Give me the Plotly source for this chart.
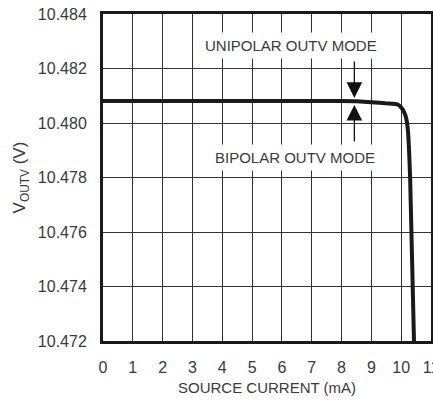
import plotly.graph_objects as go

# Output voltage vs. source current
source_current_ma = [0, 1, 2, 3, 4, 5, 6, 7, 8, 8.5, 9.0, 9.5, 9.9, 10.05, 10.15, 10.22, 10.3, 10.43]
v_outv = [10.48081, 10.48081, 10.48081, 10.48081, 10.48081, 10.48081, 10.48081, 10.48081,
          10.48081, 10.48080, 10.48076, 10.48072, 10.48067, 10.48050, 10.48025, 10.47980,
          10.47800, 10.47200]

x_ticks = list(range(0, 12))
y_ticks = [10.472, 10.474, 10.476, 10.478, 10.480, 10.482, 10.484]

FONT = "Liberation Sans Narrow, Arial Narrow, Liberation Sans, Arial, sans-serif"
TXT = "#3a3a3a"
GRID = "#333333"

fig = go.Figure()
fig.add_trace(go.Scatter(
    x=source_current_ma, y=v_outv, mode="lines",
    line=dict(color="#1a1a1a", width=4, shape="spline", smoothing=0.6),
    hoverinfo="skip", showlegend=False,
))

# Mode labels and arrows
fig.add_annotation(x=6.29, y=10.48283, text="UNIPOLAR OUTV MODE", showarrow=False,
                   font=dict(family=FONT, size=15, color=TXT), bgcolor="white", borderpad=4)
fig.add_annotation(x=6.45, y=10.47875, text="BIPOLAR OUTV MODE", showarrow=False,
                   font=dict(family=FONT, size=15, color=TXT), bgcolor="white", borderpad=4)
fig.add_annotation(x=8.43, y=10.48092, ax=8.43, ay=10.48231, axref="x", ayref="y",
                   xref="x", yref="y", text="", showarrow=True,
                   arrowhead=2, arrowsize=2.4, arrowwidth=1.3, arrowcolor="#111")
fig.add_annotation(x=8.43, y=10.48066, ax=8.43, ay=10.47927, axref="x", ayref="y",
                   xref="x", yref="y", text="", showarrow=True,
                   arrowhead=2, arrowsize=2.4, arrowwidth=1.3, arrowcolor="#111")

fig.update_layout(
    width=433, height=403,
    margin=dict(l=103, r=2, t=14, b=62),
    paper_bgcolor="white", plot_bgcolor="white",
    font=dict(family=FONT, size=16, color=TXT),
)
fig.update_xaxes(
    range=[0, 11], tickvals=x_ticks, ticktext=[str(v) for v in x_ticks],
    showgrid=True, gridcolor=GRID, gridwidth=1,
    showline=True, linecolor="#1a1a1a", linewidth=3, mirror=True,
    ticks="", ticklabelstandoff=10, ticklabeloverflow="allow", zeroline=False,
    automargin=False, tickfont=dict(size=16),
    title=dict(text="SOURCE CURRENT (mA)", standoff=8, font=dict(size=15)),
)
fig.update_yaxes(
    range=[10.472, 10.484], tickvals=y_ticks, ticktext=[f"{v:.3f}" for v in y_ticks],
    showgrid=True, gridcolor=GRID, gridwidth=1,
    showline=True, linecolor="#1a1a1a", linewidth=3, mirror=True,
    ticks="", ticklabelstandoff=10, zeroline=False,
    automargin=False, tickfont=dict(size=16),
    title=dict(text="V<sub>OUTV</sub> (V)", standoff=8, font=dict(size=17)),
)

fig.write_html("out.html")
